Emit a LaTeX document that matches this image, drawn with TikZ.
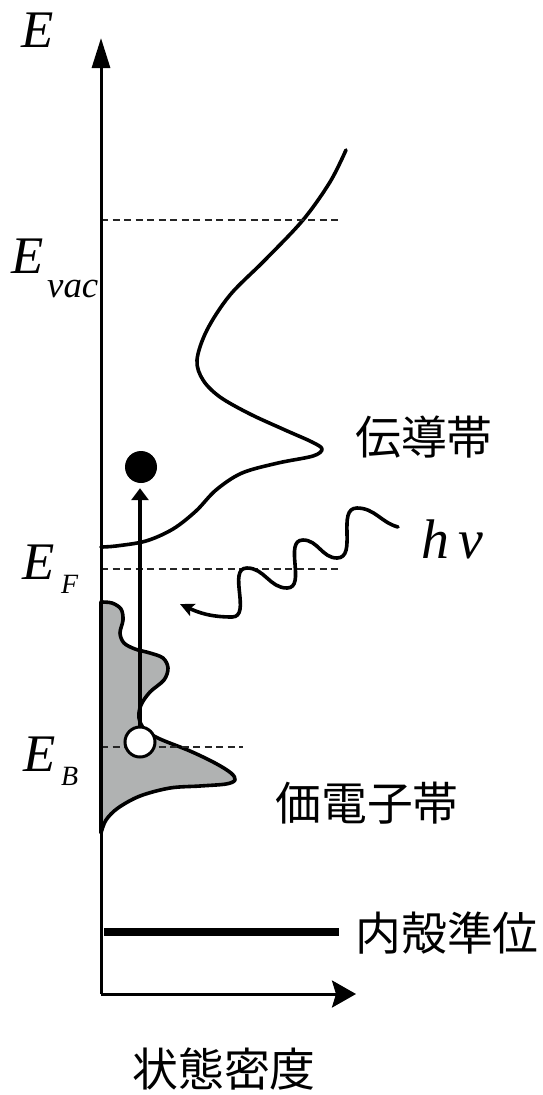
\documentclass[tikz,border=0pt]{standalone}
\usepackage{fontspec}
\setmainfont{Liberation Serif}
\newfontfamily\jpfont{Noto Sans CJK JP}
\usetikzlibrary{arrows.meta}
\definecolor{bandgray}{RGB}{176,178,178}
\begin{document}
\begin{tikzpicture}[x=1bp,y=1bp,
  axisline/.style={line width=3bp},
  bandline/.style={line width=3.6bp, line join=round, line cap=round},
  level/.style={line width=2bp, dash pattern=on 7bp off 4.5bp, black!85},
  elab/.style={inner sep=0, font=\fontsize{53}{53}\selectfont\itshape},
  sublab/.style={inner sep=0, anchor=base west, font=\fontsize{28}{28}\selectfont\itshape},
  jplab/.style={inner sep=0, font=\jpfont\fontsize{46}{46}\selectfont},
]
\useasboundingbox (0,0) rectangle (543,-1095);

% axis coordinates
\coordinate (O) at (101,-994);
\coordinate (ytip) at (101,-38);
\coordinate (xtip) at (356,-994);

% valence band (filled)
\filldraw[fill=bandgray, bandline] plot[smooth, tension=0.55] coordinates {
  (101,-602) (112,-603) (121,-609) (123,-620) (120,-633) (124,-643)
  (135,-649) (150,-653) (163,-658) (168,-668) (164,-680) (150,-692)
  (141,-705) (139,-718) (145,-730) (160,-739) (190,-751) (215,-763)
  (231,-773) (235,-780) (226,-784) (200,-786) (170,-788) (140,-796)
  (118,-808) (106,-820) (101,-833)} -- cycle;

% conduction band
\draw[bandline] plot[smooth, tension=0.55] coordinates {
  (346,-150) (330,-182) (303,-220) (265,-260) (230,-295) (207,-330)
  (197,-360) (203,-380) (220,-397) (250,-414) (285,-430) (312,-442)
  (322,-449) (313,-456) (278,-463) (242,-473) (216,-490) (196,-511)
  (173,-529) (146,-541) (116,-546) (101,-547)};

% dashed levels
\coordinate (vac0) at (101,-220);  \coordinate (vac1) at (341,-220);
\coordinate (ef0) at (101,-569);   \coordinate (ef1) at (342,-569);
\coordinate (eb0) at (101,-747);   \coordinate (eb1) at (243,-747);
\draw[level] (vac0) -- (vac1);
\draw[level] (ef0) -- (ef1);
\draw[level] (eb0) -- (eb1);

% axes
\draw[axisline, -{Triangle[length=30bp,width=18bp]}] (O) -- (ytip);
\draw[axisline, -{Stealth[length=24bp,width=27bp,inset=4bp]}] (O) -- (xtip);

% core level
\coordinate (core0) at (104,-932);
\coordinate (core1) at (339,-932);
\draw[line width=8bp] (core0) -- (core1);

% photon
\coordinate (ph0) at (398,-527);
\coordinate (ph1) at (180,-604);
\draw[line width=3.6bp, line cap=round, -{Stealth[length=14bp,width=13bp,inset=3bp]}]
  (ph0) to[out=165,in=0] (357,-508) to[out=180,in=0] (337,-558)
  to[out=180,in=0] (303,-540) to[out=180,in=0] (287,-588)
  to[out=180,in=0] (247,-568) to[out=180,in=0] (232,-617)
  to[out=180,in=-25] (ph1);

% electron and hole
\node[circle, fill=black, minimum size=32bp, inner sep=0] (el) at (141,-467) {};
\node[circle, draw, fill=white, line width=3bp, minimum size=30bp, inner sep=0] (hole) at (140,-742) {};
\draw[line width=4.5bp, -{Triangle[length=12bp,width=17bp]}, shorten >=5bp]
  (hole.north) -- (hole.north |- el.south);

% labels
\node[elab] (E) at (38,-30) {E};
\node[elab] (Evac) at (28,-256) {E};
\node[inner sep=0, anchor=base west, font=\fontsize{37}{37}\selectfont\itshape] (vac) at (47,-297) {vac};
\node[elab] (EF) at (39,-562) {E};
\node[sublab] (F) at (61,-593) {F};
\node[elab] (EB) at (40,-754) {E};
\node[sublab] (B) at (61,-785) {B};
\node[inner sep=0, anchor=base west, font=\fontsize{56}{56}\selectfont\itshape] (hnu) at (421,-558) {h\,ν};
\node[jplab] (cb) at (424,-437) {伝導帯};
\node[jplab] (vb) at (367,-803) {価電子帯};
\node[jplab] (core) at (447,-933) {内殻準位};
\node[jplab] (dos) at (224,-1069) {状態密度};
\end{tikzpicture}
\end{document}
